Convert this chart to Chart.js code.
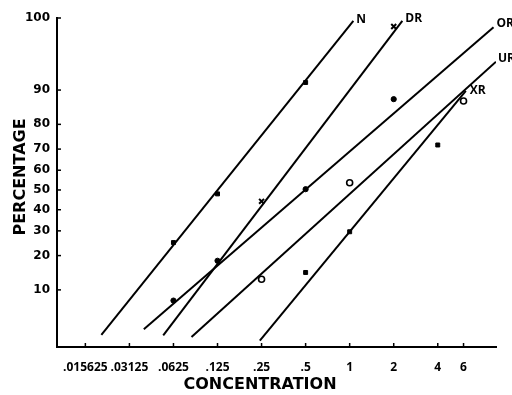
<!DOCTYPE html>
<html><head><meta charset="utf-8">
<script src="https://cdn.jsdelivr.net/npm/chart.js@4"></script>
<style>html,body{margin:0;padding:0;background:#fff}</style>
</head><body>
<div style="width:512px;height:395px"><canvas id="c" width="512" height="395"></canvas></div>
<script>
// ---- Data (concentration, percentage) ----
const xTickValues = [0.015625, 0.03125, 0.0625, 0.125, 0.25, 0.5, 1, 2, 4, 6];
const xTickLabels = ['.015625', '.03125', '.0625', '.125', '.25', '.5', '1', '2', '4', '6'];
const yTickPct = [10, 20, 30, 40, 50, 60, 70, 80, 90, 100];
const yTickLabels = ['10', '20', '30', '40', '50', '60', '70', '80', '90', '100'];
const yAxisPctRange = [2.2, 98.63];
const xAxisRange = [0.01, 10];

const seriesNames = ['N', 'DR', 'OR', 'UR', 'XR'];

// observed points
const nConc = [0.0625, 0.125, 0.5];
const nPct = [25, 48, 91.6];
const drConc = [0.25, 2];
const drPct = [44.2, 98.2];
const orConc = [0.0625, 0.125, 0.5, 2];
const orPct = [7.8, 18.2, 50.4, 87.8];
const urConc = [0.25, 1, 6];
const urPct = [12.6, 53.7, 87.3];
const xrConc = [0.5, 1, 4];
const xrPct = [14.5, 29.6, 71.8];

// fitted lines (end points)
const nLineConc = [0.0201, 1.06];
const nLinePct = [3.15, 98.5];
const drLineConc = [0.0532, 2.29];
const drLinePct = [3.1, 98.5];
const orLineConc = [0.0392, 9.62];
const orLinePct = [3.7, 98.15];
const urLineConc = [0.083, 10];
const urLinePct = [2.97, 95.0];
const xrLineConc = [0.2433, 6.22];
const xrLinePct = [2.67, 89.8];

// ---- probit transform (inverse normal CDF) ----
function probit(p){
  const a=[-3.969683028665376e+01,2.209460984245205e+02,-2.759285104469687e+02,1.383577518672690e+02,-3.066479806614716e+01,2.506628277459239e+00];
  const b=[-5.447609879822406e+01,1.615858368580409e+02,-1.556989798598866e+02,6.680131188771972e+01,-1.328068155288572e+01];
  const c=[-7.784894002430293e-03,-3.223964580411365e-01,-2.400758277161838e+00,-2.549732539343734e+00,4.374664141464968e+00,2.938163982698783e+00];
  const d=[7.784695709041462e-03,3.224671290700398e-01,2.445134137142996e+00,3.754408661907416e+00];
  const pl=0.02425, ph=1-pl; let q,r;
  if(p<pl){q=Math.sqrt(-2*Math.log(p));return (((((c[0]*q+c[1])*q+c[2])*q+c[3])*q+c[4])*q+c[5])/((((d[0]*q+d[1])*q+d[2])*q+d[3])*q+1);}
  if(p>ph){q=Math.sqrt(-2*Math.log(1-p));return -(((((c[0]*q+c[1])*q+c[2])*q+c[3])*q+c[4])*q+c[5])/((((d[0]*q+d[1])*q+d[2])*q+d[3])*q+1);}
  q=p-0.5;r=q*q;return (((((a[0]*r+a[1])*r+a[2])*r+a[3])*r+a[4])*r+a[5])*q/(((((b[0]*r+b[1])*r+b[2])*r+b[3])*r+b[4])*r+1);
}
const zMin = probit(yAxisPctRange[0]/100);
const zMax = probit(yAxisPctRange[1]/100);
function pts(xs, ps){ return xs.map((x,i)=>({x:x, y: probit(ps[i]/100)})); }

const lines = [
  pts(nLineConc, nLinePct), pts(drLineConc, drLinePct), pts(orLineConc, orLinePct),
  pts(urLineConc, urLinePct), pts(xrLineConc, xrLinePct)
];

const BOLD = '"DejaVu Sans", sans-serif';
function lineDS(data){
  return {data:data, showLine:true, borderColor:'#000', borderWidth:2, pointRadius:0, fill:false};
}
function ptDS(data, style, radius, bg, bw){
  return {data:data, showLine:false, pointStyle:style, pointRadius:radius, backgroundColor:bg,
          borderColor:'#000', borderWidth:bw, clip:false};
}

const insideTicks = {
  id:'insideTicks',
  afterDraw(chart){
    const ctx = chart.ctx, xs = chart.scales.x, ys = chart.scales.y, a = chart.chartArea;
    ctx.save(); ctx.strokeStyle = '#000'; ctx.lineWidth = 1.5;
    xTickValues.forEach(v => { const px = xs.getPixelForValue(v);
      ctx.beginPath(); ctx.moveTo(px, a.bottom); ctx.lineTo(px, a.bottom-4); ctx.stroke(); });
    ys.ticks.forEach(t => { const py = ys.getPixelForValue(t.value);
      ctx.beginPath(); ctx.moveTo(a.left, py); ctx.lineTo(a.left+4, py); ctx.stroke(); });
    ctx.restore();
  }
};

const seriesLabelOffsets = [[3,-1],[3,-2],[3,-4],[2,-3],[4,0]];
const seriesLabels = {
  id:'seriesLabels',
  afterDraw(chart){
    const ctx = chart.ctx, xs = chart.scales.x, ys = chart.scales.y;
    ctx.save(); ctx.fillStyle = '#000'; ctx.font = 'bold 12px "Open Sans", sans-serif';
    ctx.textAlign = 'left'; ctx.textBaseline = 'middle';
    lines.forEach((ln, i) => {
      const top = ln[1];
      const px = xs.getPixelForValue(top.x) + seriesLabelOffsets[i][0];
      const py = ys.getPixelForValue(top.y) + seriesLabelOffsets[i][1];
      ctx.fillText(seriesNames[i], px, py);
    });
    ctx.restore();
  }
};

const axisTitles = {
  id:'axisTitles',
  afterDraw(chart){
    const ctx = chart.ctx;
    ctx.save(); ctx.fillStyle = '#000'; ctx.font = 'bold 16px ' + BOLD;
    ctx.textAlign = 'center'; ctx.textBaseline = 'middle';
    ctx.fillText('CONCENTRATION', 260, 385);
    ctx.translate(21, 177); ctx.rotate(-Math.PI/2);
    ctx.fillText('PERCENTAGE', 0, 0);
    ctx.restore();
  }
};

new Chart(document.getElementById('c'), {
  type:'scatter',
  data:{datasets:[
    lineDS(lines[0]), lineDS(lines[1]), lineDS(lines[2]), lineDS(lines[3]), lineDS(lines[4]),
    ptDS(pts(nConc, nPct), 'rect', 2.8, '#000', 1),
    ptDS(pts(drConc, drPct), 'crossRot', 3.5, '#000', 2),
    ptDS(pts(orConc, orPct), 'circle', 2.6, '#000', 1),
    ptDS(pts(urConc, urPct), 'circle', 3, '#fff', 1.6),
    ptDS(pts(xrConc, xrPct), 'rect', 2.8, '#000', 1)
  ]},
  options:{
    responsive:false, animation:false, devicePixelRatio:1,
    plugins:{legend:{display:false}, tooltip:{enabled:false}},
    layout:{padding:{top:18, right:16, left:0, bottom:0}},
    scales:{
      x:{
        type:'logarithmic', min:xAxisRange[0], max:xAxisRange[1],
        afterFit(s){ s.height = 48; },
        afterBuildTicks(s){ s.ticks = xTickValues.map(v => ({value:v})); },
        ticks:{autoSkip:false, maxRotation:0, minRotation:0, padding:13, color:'#000',
               font:{family:'"Open Sans", sans-serif', weight:'bold', size:12},
               callback:(v,i)=>xTickLabels[i]},
        grid:{display:false, drawTicks:false},
        border:{display:true, color:'#000', width:2}
      },
      y:{
        type:'linear', min:zMin, max:zMax,
        afterFit(s){ s.width = 57; },
        afterBuildTicks(s){ s.ticks = yTickPct.map(p => ({value: p===100 ? zMax : probit(p/100)})); },
        ticks:{autoSkip:false, padding:7, color:'#000',
               font:{family:BOLD, weight:'bold', size:12},
               callback:(v,i)=>yTickLabels[i]},
        grid:{display:false, drawTicks:false},
        border:{display:true, color:'#000', width:2}
      }
    }
  },
  plugins:[insideTicks, seriesLabels, axisTitles]
});
</script>
</body></html>
